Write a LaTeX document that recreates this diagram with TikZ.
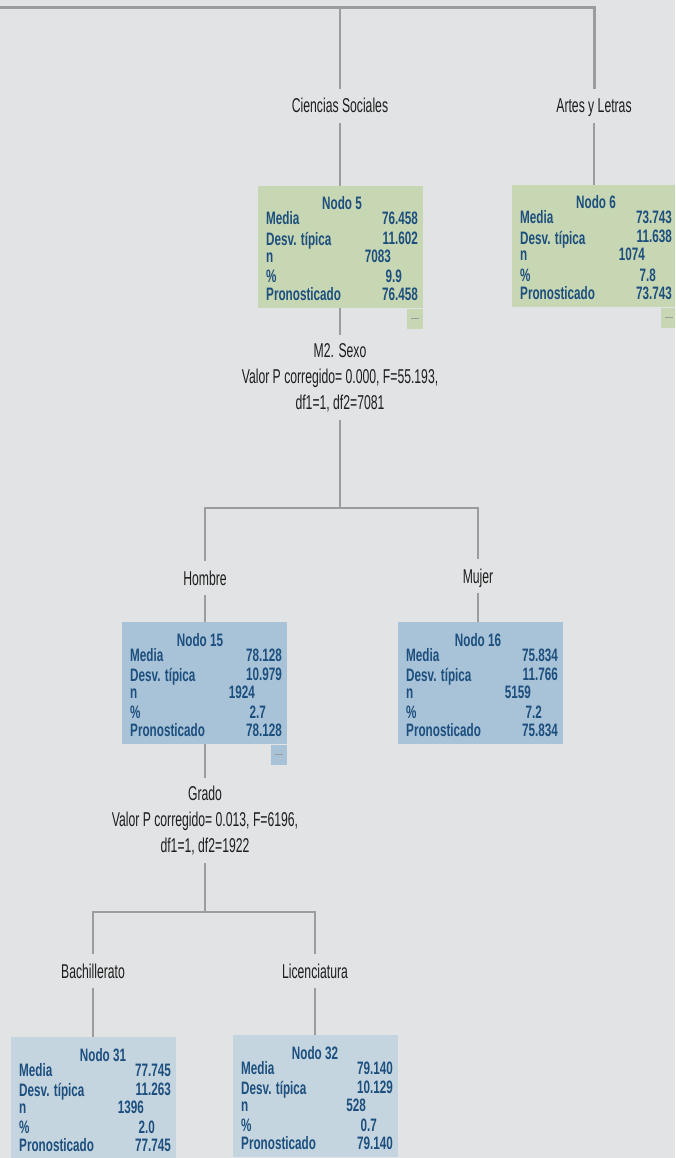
\documentclass[tikz,border=0pt]{standalone}
\usepackage{fontspec}
\usetikzlibrary{calc}
\newfontfamily\labfont{Liberation Sans}[FakeStretch=0.61]
\newfontfamily\boxfont{Liberation Sans Bold}[FakeStretch=0.65]
\definecolor{bgc}{HTML}{E2E3E5}
\definecolor{linec}{HTML}{9C9C9C}
\definecolor{nodec}{HTML}{1D4F7E}
\definecolor{greenc}{HTML}{C8D7B3}
\definecolor{bluec}{HTML}{A8C3D7}
\definecolor{lbluec}{HTML}{C5D5E0}
\definecolor{labc}{HTML}{1E1E1E}
\tikzset{
  edge/.style={draw=linec, line width=1.6pt},
  topedge/.style={draw=linec, line width=3pt},
  lab/.style={font=\labfont\fontsize{20}{26}\selectfont, text=labc, inner xsep=2pt, inner ysep=10pt, text height=14pt, text depth=0pt},
  splitlab/.style={font=\labfont\fontsize{20}{26}\selectfont, text=labc, align=center, inner ysep=8pt, anchor=north},
  boxn/.style={anchor=north west, minimum width=165pt, minimum height=122pt, inner sep=0pt, draw=none},
  btxt/.style={font=\boxfont\fontsize{18}{19}\selectfont, text=nodec, inner sep=0pt},
  tabn/.style={anchor=north east, minimum width=16pt, minimum height=20pt, inner sep=0pt, draw=none},
  tabdash/.style={draw=linec, line width=1pt},
}
\newcommand{\boxtext}[8][84]{%
  \node[btxt,anchor=base] (#2-t) at ($(#2.north west)+(#1,24)$) {Nodo #3};
  \node[btxt,anchor=base west] (#2-a) at ($(#2.north west)+(8,39)$) {Media};
  \node[btxt,anchor=base east] (#2-av) at ($(#2.north west)+(160,39)$) {#4};
  \node[btxt,anchor=base west] (#2-b) at ($(#2.north west)+(8,59)$) {Desv. típica};
  \node[btxt,anchor=base east] (#2-bv) at ($(#2.north west)+(160,58)$) {#5};
  \node[btxt,anchor=base west] (#2-c) at ($(#2.north west)+(8,76)$) {n};
  \node[btxt,anchor=base east] (#2-cv) at ($(#2.north west)+(133,76)$) {#6};
  \node[btxt,anchor=base west] (#2-d) at ($(#2.north west)+(8,96)$) {\%};
  \node[btxt,anchor=base east] (#2-dv) at ($(#2.north west)+(144,96)$) {#7};
  \node[btxt,anchor=base west] (#2-e) at ($(#2.north west)+(8,114)$) {Pronosticado};
  \node[btxt,anchor=base east] (#2-ev) at ($(#2.north west)+(160,114)$) {#8};
}
\begin{document}
\begin{tikzpicture}[x=1pt,y=-1pt]
\fill[bgc] (0,0) rectangle (675,1158);
\useasboundingbox (0,0) rectangle (675,1158);
\clip (0,0) rectangle (675,1158);

% top level
\coordinate (topL) at (0,8);
\coordinate (tj) at (340,8);
\node[lab,anchor=base] (cs) at (340,113) {Ciencias Sociales};
\node[lab,anchor=base] (art) at (594,113) {Artes y Letras};
\draw[topedge] (topL) -- (tj) -| (art.north);
\draw[edge] (tj) -- (cs.north);

% node 5 and 6
\node[boxn,fill=greenc] (n5) at (258,186) {};
\node[tabn,fill=greenc] (n5tab) at (n5.south east) {};
\draw[tabdash] ($(n5tab.center)+(-4,0)$) -- ($(n5tab.center)+(4,0)$);
\boxtext{n5}{5}{76.458}{11.602}{7083}{9.9}{76.458}
\node[boxn,fill=greenc] (n6) at (512,185) {};
\node[tabn,fill=greenc,anchor=north west,minimum width=16pt] (n6tab) at ($(n6.south west)+(149,0)$) {};
\draw[tabdash] ($(n6tab.center)+(-4,0)$) -- ($(n6tab.center)+(4,0)$);
\boxtext{n6}{6}{73.743}{11.638}{1074}{7.8}{73.743}
\draw[edge] (cs.south) -- (cs.south |- n5.north);
\draw[edge] (art.south) -- (art.south |- n6.north);

% split of node 5
\node[splitlab] (sx) at (340,335) {M2. Sexo\\Valor P corregido= 0.000, F=55.193,\\df1=1, df2=7081};
\draw[edge] (n5.south -| sx.north) -- (sx.north);
\coordinate (b1) at (340,508);
\node[lab,anchor=base] (hom) at (205,585) {Hombre};
\node[lab,anchor=base] (muj) at (478,583) {Mujer};
\draw[edge] (sx.south) -- (b1);
\draw[edge] (hom.north) |- (b1) -| (muj.north);

% node 15 and 16
\node[boxn,fill=bluec] (n15) at (122,622) {};
\node[tabn,fill=bluec] (n15tab) at (n15.south east) {};
\draw[tabdash] ($(n15tab.center)+(-4,0)$) -- ($(n15tab.center)+(4,0)$);
\boxtext[78]{n15}{15}{78.128}{10.979}{1924}{2.7}{78.128}
\node[boxn,fill=bluec] (n16) at (398,622) {};
\boxtext[80]{n16}{16}{75.834}{11.766}{5159}{7.2}{75.834}
\draw[edge] (hom.south) -- (hom.south |- n15.north);
\draw[edge] (muj.south) -- (muj.south |- n16.north);

% split of node 15
\node[splitlab] (gr) at (205,778) {Grado\\Valor P corregido= 0.013, F=6196,\\df1=1, df2=1922};
\draw[edge] (n15.south -| gr.north) -- (gr.north);
\coordinate (b2) at (205,912);
\node[lab,anchor=base] (bach) at (93,978) {Bachillerato};
\node[lab,anchor=base] (lic) at (315,978) {Licenciatura};
\draw[edge] (gr.south) -- (b2);
\draw[edge] (bach.north) |- (b2) -| (lic.north);

% node 31 and 32
\node[boxn,fill=lbluec] (n31) at (11,1037) {};
\boxtext[92]{n31}{31}{77.745}{11.263}{1396}{2.0}{77.745}
\node[boxn,fill=lbluec] (n32) at (233,1035) {};
\boxtext[82]{n32}{32}{79.140}{10.129}{528}{0.7}{79.140}
\draw[edge] (bach.south) -- (bach.south |- n31.north);
\draw[edge] (lic.south) -- (lic.south |- n32.north);
\end{tikzpicture}
\end{document}
